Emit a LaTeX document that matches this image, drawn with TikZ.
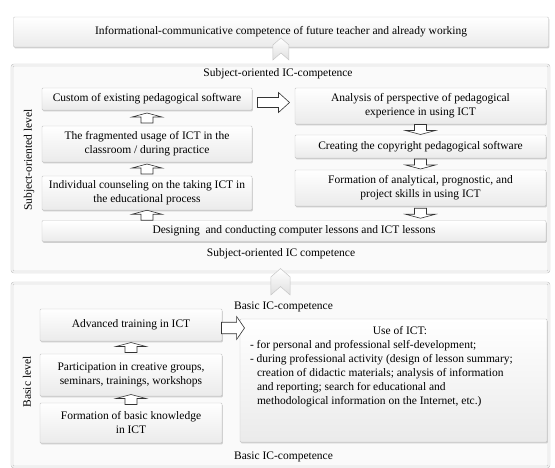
\documentclass[tikz,border=0pt]{standalone}
\usepackage{fontspec}
\setmainfont{Liberation Serif}
\usetikzlibrary{calc,shadows}

\begin{document}
\begin{tikzpicture}[
        x=1pt, y=-1pt,
        every node/.style={font=\fontsize{11.5}{14}\selectfont},
        panel/.style={draw=gray!55, double=gray!12, double distance=1.6pt, fill=gray!4, rounded corners=2pt, inner sep=0pt},
        box/.style={draw=gray!45, top color=white, bottom color=gray!16, rounded corners=1pt, align=center, inner sep=1pt,
            drop shadow={shadow xshift=0.8pt, shadow yshift=-1.4pt, fill=gray!60, opacity=0.6}},
        lbl/.style={inner sep=0pt},
        blk/.style={draw=black!80, fill=white, line width=0.6pt, line join=miter},
        chev/.style={draw=gray!45, top color=white, bottom color=gray!25, line width=0.5pt},
        uparr/.pic={\draw[blk] (-6,5) -- (-6,-1) -- (-15,-1) -- (0,-5) -- (15,-1) -- (6,-1) -- (6,5) -- cycle;},
        dnarr/.pic={\draw[blk] (-6,-5) -- (-6,1) -- (-15,1) -- (0,5) -- (15,1) -- (6,1) -- (6,-5) -- cycle;},
        rarr/.pic={\draw[blk] (-16,-5) -- (5,-5) -- (5,-10) -- (16,0) -- (5,10) -- (5,5) -- (-16,5) -- cycle;},
        chevup/.pic={\draw[chev] (-8,11) -- (-8,-4) -- (0,-11) -- (8,-4) -- (8,11) -- (0,4) -- cycle;}
    ]
        \useasboundingbox (0,0) rectangle (555,468);

        % top goal
        \node[box, minimum width=535, minimum height=30] (top) at (281,32) {Informational-communicative competence of future teacher and already working};

        % subject-oriented level
        \node[panel, minimum width=537, minimum height=207] (subj) at (280.5,168.5) {};
        \node[lbl] (subjtop) at (278,74) {Subject-oriented IC-competence};
        \node[lbl] (subjbot) at (281,254) {Subject-oriented IC competence};
        \node[lbl, rotate=90] (subjlvl) at (29,160) {Subject-oriented level};

        \node[box, minimum width=210, minimum height=22] (custom) at (147,99) {Custom of existing pedagogical software};
        \node[box, minimum width=210, minimum height=36] (frag) at (147,144) {The fragmented usage of ICT in the\\ classroom / during practice};
        \node[box, minimum width=210, minimum height=34] (couns) at (147,193) {Individual counseling on the taking ICT in\\ the educational process};
        \node[box, minimum width=504, minimum height=21] (design) at (294,231) {Designing\ \ and conducting computer lessons and ICT lessons};

        \node[box, minimum width=251, minimum height=36] (persp) at (420.5,106) {Analysis of perspective of pedagogical\\ experience in using ICT};
        \node[box, minimum width=251, minimum height=23] (copyr) at (420.5,146.5) {Creating the copyright pedagogical software};
        \node[box, minimum width=251, minimum height=36] (skills) at (420.5,188) {Formation of analytical, prognostic, and\\ project skills in using ICT};

        \pic at ($(custom.south)!0.5!(frag.north)$) {uparr};
        \pic at ($(frag.south)!0.5!(couns.north)$) {uparr};
        \pic at ($(couns.south)!0.5!(couns.south |- design.north)$) {uparr};
        \pic at ($(persp.south)!0.5!(copyr.north)$) {dnarr};
        \pic at ($(copyr.south)!0.5!(skills.north)$) {dnarr};
        \pic at ($(skills.south)!0.5!(skills.south |- design.north)$) {dnarr};
        \pic at ($(custom.east)!0.5!(persp.west)$) {rarr};

        % basic level
        \node[panel, minimum width=537, minimum height=184] (basic) at (280.5,375) {};
        \node[lbl, anchor=west] (basictop) at (234,307) {Basic IC-competence};
        \node[lbl, anchor=west] (basicbot) at (234,457) {Basic IC-competence};
        \node[lbl, rotate=90] (basiclvl) at (27,382) {Basic level};

        \node[box, minimum width=182, minimum height=32] (adv) at (131,325) {Advanced training in ICT};
        \node[box, minimum width=182, minimum height=42] (part) at (131,375) {Participation in creative groups,\\ seminars, trainings, workshops};
        \node[box, minimum width=182, minimum height=40] (form) at (131,423) {Formation of basic knowledge\\ in ICT};

        \node[box, minimum width=307, minimum height=123] (use) at (393.5,380.5) {};
        \node[lbl, anchor=north west, align=left] (usetxt) at ([xshift=10pt,yshift=-7pt]use.north west) {%
            \makebox[300pt][c]{Use of ICT:}\\
            - for personal and professional self-development;\\
            - during professional activity (design of lesson summary;\\
            \hspace*{7pt}creation of didactic materials; analysis of information\\
            \hspace*{7pt}and reporting; search for educational and\\
            \hspace*{7pt}methodological information on the Internet, etc.)};

        \pic at ($(form.north)!0.5!(part.south)$) {uparr};
        \pic at ($(part.north)!0.5!(adv.south)$) {uparr};
        \pic[xscale=0.72, yscale=1.15] at ($(adv.east)!0.5!(adv.east -| use.west)+(2,3)$) {rarr};

        % level transitions
        \pic at ($(top.south)!0.1!(subj.north)$) {chevup};
        \pic[scale=1.2] at ($(subj.south)!0.9!(basic.north)$) {chevup};
    \end{tikzpicture}
\end{document}
